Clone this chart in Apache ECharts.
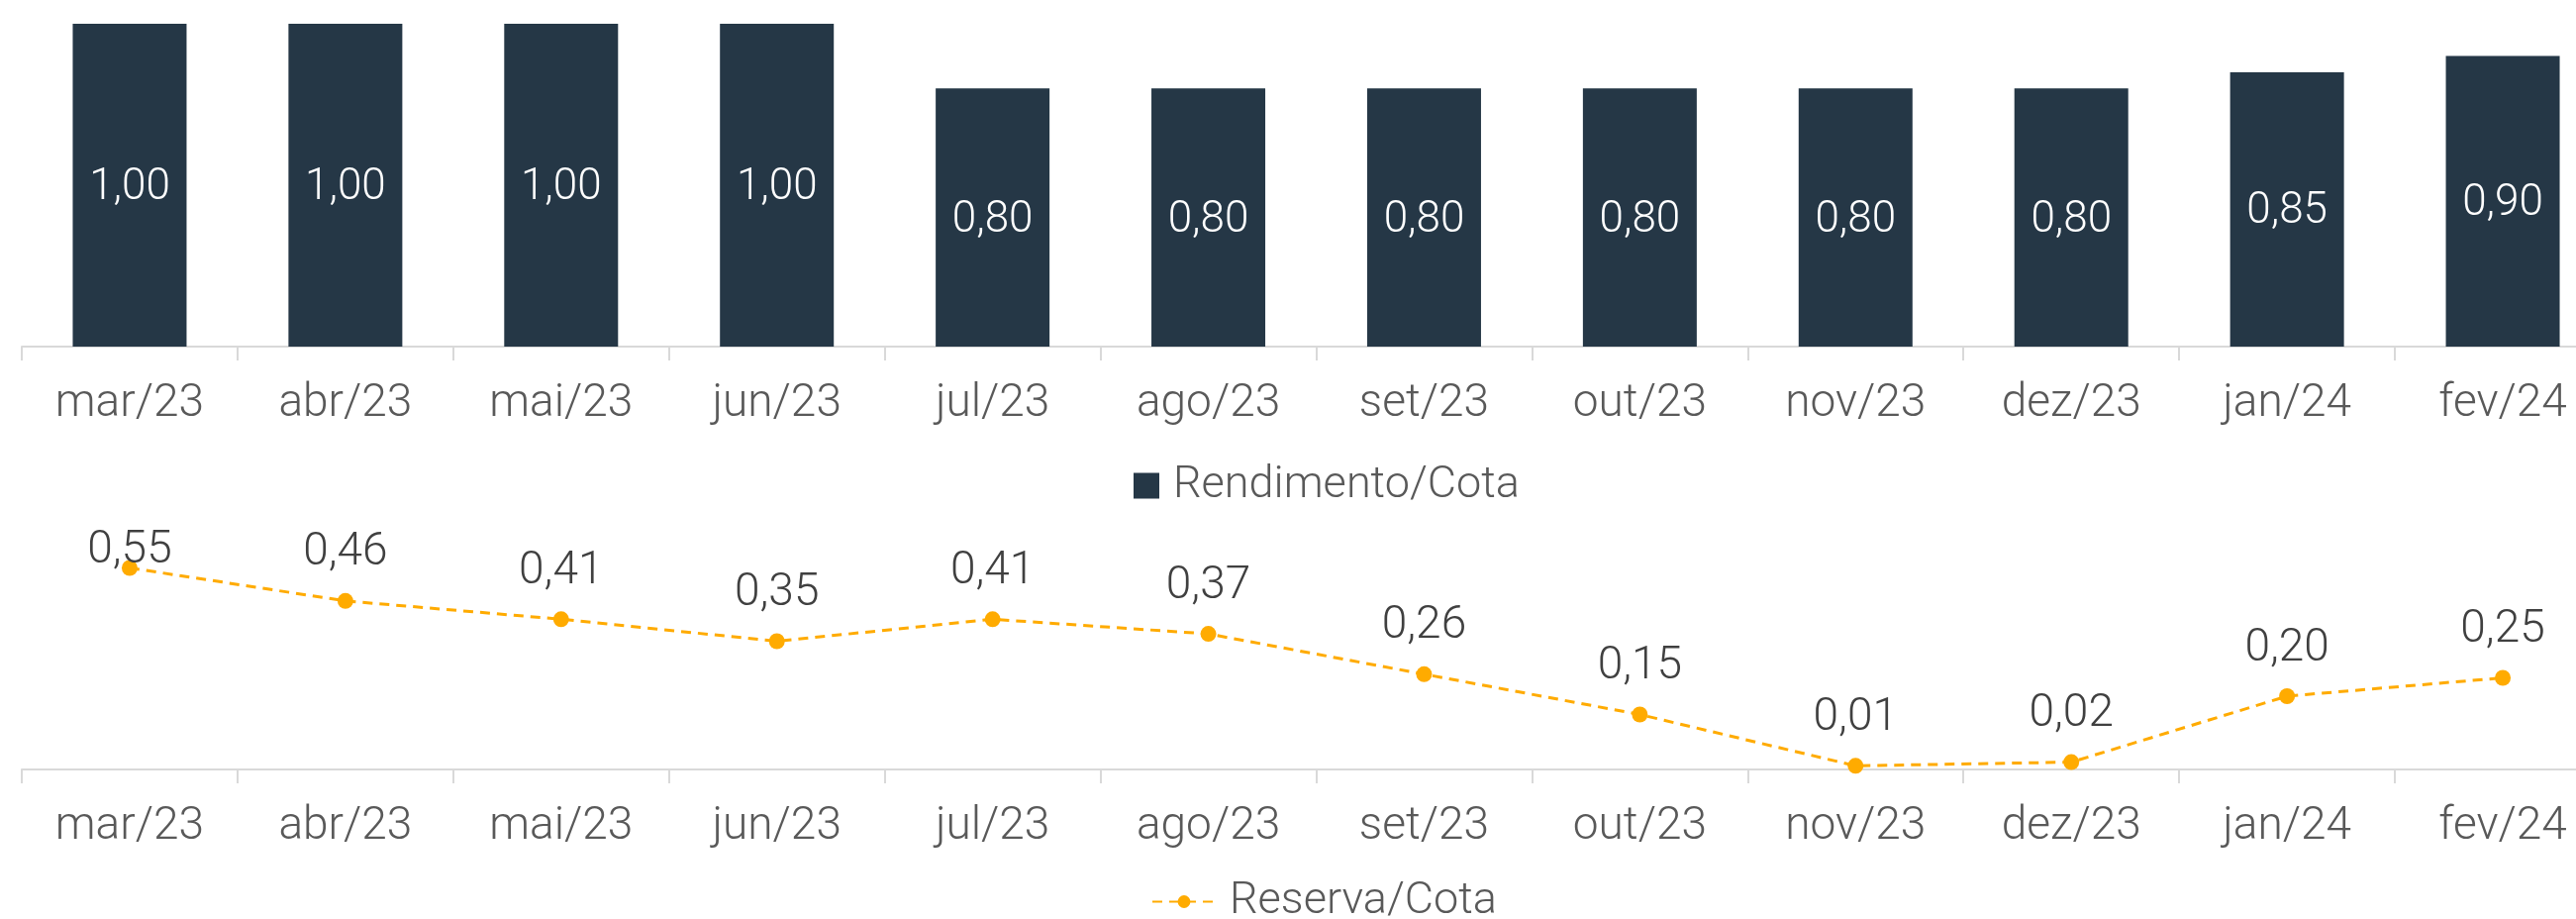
<!DOCTYPE html>
<html>
<head>
<meta charset="utf-8">
<script src="https://cdn.jsdelivr.net/npm/echarts@6/dist/echarts.min.js"></script>
<style>
  html, body { margin: 0; padding: 0; background: #fff; }
  #chart { width: 2602px; height: 928px; }
</style>
</head>
<body>
<div id="chart"></div>
<script>
// meses
const categories = ['mar/23', 'abr/23', 'mai/23', 'jun/23', 'jul/23', 'ago/23', 'set/23', 'out/23', 'nov/23', 'dez/23', 'jan/24', 'fev/24'];
// rendimento por cota
const rendimento = [1.00, 1.00, 1.00, 1.00, 0.80, 0.80, 0.80, 0.80, 0.80, 0.80, 0.85, 0.90];
// reserva por cota
const reserva = [0.55, 0.46, 0.41, 0.35, 0.41, 0.37, 0.26, 0.15, 0.01, 0.02, 0.20, 0.25];

const fontFamily = 'Roboto, "Noto Sans", sans-serif';
const fmt = function (p) { return p.value.toFixed(2).replace('.', ','); };

const axisCommon = {
  type: 'category',
  data: categories,
  boundaryGap: true,
  axisLine: { show: true, lineStyle: { color: '#d9d9d9', width: 2 } },
  axisTick: { show: true, alignWithLabel: false, length: 14, lineStyle: { color: '#d9d9d9', width: 2 } },
  axisLabel: { color: '#595959', fontSize: 46, fontWeight: 300, fontFamily: fontFamily, margin: 35, interval: 0 }
};

// primeiro rotulo fica preso no topo da area
const reservaData = reserva.map(function (v, i) {
  if (i === 0) return { value: v, label: { offset: [0, 31] } };
  return v;
});

const option = {
  animation: false,
  backgroundColor: '#fff',
  grid: [
    { left: 22, top: 24, width: 2615, height: 326, outerBoundsMode: 'none', containLabel: false },
    { left: 22, top: 555, width: 2615, height: 222, outerBoundsMode: 'none', containLabel: false }
  ],
  legend: [
    {
      data: ['Rendimento/Cota'],
      left: 1140,
      top: 463,
      icon: 'rect',
      itemWidth: 26,
      itemHeight: 26,
      selectedMode: false,
      textStyle: { color: '#595959', fontSize: 45, fontWeight: 300, fontFamily: fontFamily, padding: [0, 0, 0, 9] }
    },
    {
      data: ['Reserva/Cota'],
      left: 1158,
      top: 883,
      itemWidth: 64,
      itemHeight: 16,
      selectedMode: false,
      textStyle: { color: '#595959', fontSize: 45, fontWeight: 300, fontFamily: fontFamily, padding: [0, 0, 0, 9] }
    }
  ],
  xAxis: [
    Object.assign({ gridIndex: 0 }, axisCommon),
    Object.assign({ gridIndex: 1 }, axisCommon)
  ],
  yAxis: [
    { type: 'value', gridIndex: 0, min: 0, max: 1, show: false, splitLine: { show: false } },
    { type: 'value', gridIndex: 1, min: 0, max: 0.6, show: false, splitLine: { show: false } }
  ],
  series: [
    {
      name: 'Rendimento/Cota',
      type: 'bar',
      xAxisIndex: 0,
      yAxisIndex: 0,
      barWidth: 115,
      itemStyle: { color: '#253746' },
      label: {
        show: true,
        position: 'inside',
        offset: [0, 3],
        color: '#fff',
        fontSize: 44,
        fontWeight: 300,
        fontFamily: fontFamily,
        formatter: fmt
      },
      data: rendimento
    },
    {
      name: 'Reserva/Cota',
      type: 'line',
      xAxisIndex: 1,
      yAxisIndex: 1,
      symbol: 'circle',
      symbolSize: 16,
      itemStyle: { color: '#ffab00' },
      lineStyle: { color: '#ffab00', width: 3, type: [10, 7] },
      label: {
        show: true,
        position: 'top',
        distance: 17,
        color: '#404040',
        fontSize: 46,
        fontWeight: 300,
        fontFamily: fontFamily,
        formatter: fmt
      },
      data: reservaData
    }
  ]
};

const chart = echarts.init(document.getElementById('chart'));
chart.setOption(option);
window.onresize = function () {
  chart.resize();
};
</script>
</body>
</html>
